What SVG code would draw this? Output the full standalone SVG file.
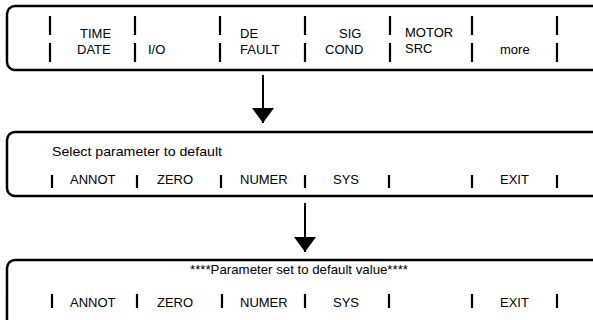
<svg xmlns="http://www.w3.org/2000/svg" width="593" height="320" viewBox="0 0 593 320">
<defs>
<style>
.box{fill:#fff;stroke:#000;stroke-width:2.5}
.sep{stroke:#000;stroke-width:2.2}
.t{font-family:"Liberation Sans",Arial,sans-serif;font-size:13px;fill:#000}
.c{stroke:#000;stroke-width:2;fill:none}
</style>
<marker id="ah" markerUnits="userSpaceOnUse" viewBox="0 0 15 22" markerWidth="15" markerHeight="22" refX="15" refY="11" orient="auto">
<path d="M0,0 L15,11 L0,22 z" fill="#000"/>
</marker>
</defs>
<rect width="593" height="320" fill="#fff"/>
<g id="menu1">
<rect class="box" x="7" y="6" width="600" height="64" rx="8"/>
<g class="sep">
<path d="M50,16V35M50,43V62M135,16V35M135,43V62M220,16V35M220,43V62M305,16V35M305,43V62M390,16V35M390,43V62M472,16V35M472,43V62M557,16V35M557,43V62"/>
</g>
<text class="t" x="80" y="38">TIME</text>
<text class="t" x="77" y="54">DATE</text>
<text class="t" x="148" y="54">I/O</text>
<text class="t" x="240" y="38">DE</text>
<text class="t" x="240" y="54">FAULT</text>
<text class="t" x="339" y="38">SIG</text>
<text class="t" x="325" y="54">COND</text>
<text class="t" x="405" y="37">MOTOR</text>
<text class="t" x="405" y="53">SRC</text>
<text class="t" x="500" y="54">more</text>
</g>
<g id="menu2">
<rect class="box" x="7" y="132" width="600" height="64" rx="8"/>
<path class="sep" d="M52,175V188M137,175V188M221,175V188M305,175V188M389,175V188M472,175V188M557,175V188"/>
<text class="t" x="52" y="156" textLength="170" lengthAdjust="spacingAndGlyphs">Select parameter to default</text>
<text class="t" x="70" y="184">ANNOT</text>
<text class="t" x="157" y="184">ZERO</text>
<text class="t" x="240" y="184">NUMER</text>
<text class="t" x="333" y="184">SYS</text>
<text class="t" x="500" y="184">EXIT</text>
</g>
<g id="menu3">
<rect class="box" x="7" y="260" width="600" height="80" rx="8"/>
<path class="sep" d="M52,294V308M137,294V308M222,294V308M305,294V308M389,294V308M472,294V308M557,294V308"/>
<text class="t" x="190" y="274" textLength="218" lengthAdjust="spacingAndGlyphs">****Parameter set to default value****</text>
<text class="t" x="70" y="307">ANNOT</text>
<text class="t" x="157" y="307">ZERO</text>
<text class="t" x="240" y="307">NUMER</text>
<text class="t" x="333" y="307">SYS</text>
<text class="t" x="500" y="307">EXIT</text>
</g>
<g id="connectors">
<line class="c" x1="263" y1="75" x2="263" y2="123" marker-end="url(#ah)"/>
<line class="c" x1="305" y1="203" x2="305" y2="252" marker-end="url(#ah)"/>
</g>
</svg>
